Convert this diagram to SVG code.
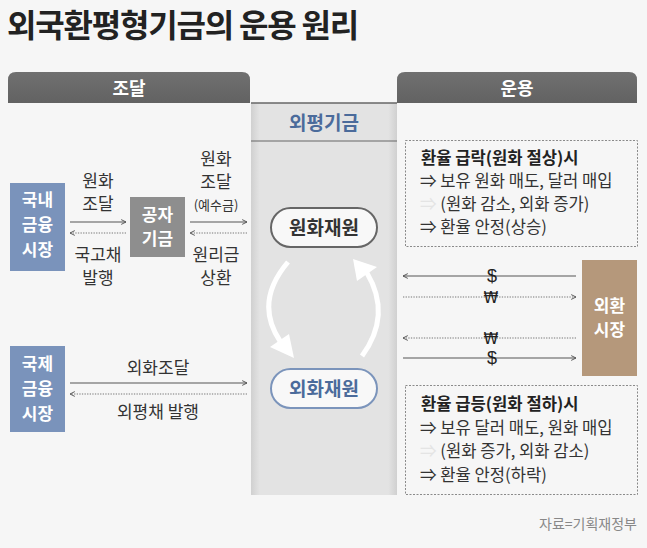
<svg xmlns="http://www.w3.org/2000/svg" width="647" height="548" viewBox="0 0 647 548">
<defs>
<style>
text{font-family:"Noto Sans CJK KR","Noto Sans",sans-serif;}
.t{font-size:17px;fill:#333;text-anchor:middle;}
.bw{font-size:17px;font-weight:bold;fill:#fff;text-anchor:middle;}
.bx{font-size:16.6px;fill:#333;}
.bxb{font-size:16.6px;fill:#222;font-weight:bold;}
.sol{stroke:#555;stroke-width:1.2;fill:none;}
.dot{stroke:#777;stroke-width:1.2;fill:none;stroke-dasharray:1.3 1.3;}
.dash{fill:none;stroke:#8a8a8a;stroke-width:1;stroke-dasharray:2 1.5;}
.money{font-family:"DejaVu Sans",sans-serif;font-size:15px;fill:#222;text-anchor:middle;}
.dollar{font-family:"Liberation Sans",sans-serif;font-size:18px;fill:#222;text-anchor:middle;}
</style>
<marker id="ch" viewBox="0 0 10 10" refX="9" refY="5" markerWidth="6" markerHeight="6" markerUnits="userSpaceOnUse" orient="auto-start-reverse">
<path d="M1,1 L9,5 L1,9" fill="none" stroke="#555" stroke-width="1.6"/>
</marker>
<linearGradient id="col" x1="0" y1="0" x2="1" y2="0">
<stop offset="0" stop-color="#d0d0d0"/>
<stop offset="0.06" stop-color="#e3e3e3"/>
<stop offset="0.94" stop-color="#e3e3e3"/>
<stop offset="1" stop-color="#d0d0d0"/>
</linearGradient>
<linearGradient id="tab" x1="0" y1="0" x2="0" y2="1">
<stop offset="0" stop-color="#707070"/>
<stop offset="1" stop-color="#626262"/>
</linearGradient>
</defs>
<rect width="647" height="548" fill="#f6f6f6"/>
<text x="7" y="37" style="font-size:32px;font-weight:bold;fill:#222;letter-spacing:-1.2px">외국환평형기금의 운용 원리</text>

<g id="tab-jodal">
<path d="M8,103 V80 Q8,72 16,72 H242 Q250,72 250,80 V103 Z" fill="url(#tab)"/>
<text x="129" y="95" style="font-size:18px;font-weight:bold;fill:#fff;text-anchor:middle">조달</text>
</g>
<g id="tab-unyong">
<path d="M397,103 V80 Q397,72 405,72 H629 Q637,72 637,80 V103 Z" fill="url(#tab)"/>
<text x="517" y="95" style="font-size:18px;font-weight:bold;fill:#fff;text-anchor:middle">운용</text>
</g>

<g id="fund-column">
<rect x="251" y="103" width="146" height="392" fill="url(#col)"/>
<line x1="251" y1="103" x2="397" y2="103" stroke="#666" stroke-width="1.5"/>
<line x1="251" y1="141" x2="397" y2="141" stroke="#666" stroke-width="1.2"/>
<text x="324" y="130" style="font-size:19px;font-weight:bold;fill:#4b6b9b;text-anchor:middle">외평기금</text>
</g>

<g id="domestic-market">
<rect x="10" y="183" width="55" height="88" fill="#7a93bb"/>
<text class="bw" x="37.5" y="206">국내</text>
<text class="bw" x="37.5" y="231">금융</text>
<text class="bw" x="37.5" y="256">시장</text>
</g>
<g id="public-fund">
<rect x="130" y="197" width="55" height="60" fill="#8e8e8e"/>
<text class="bw" x="157.5" y="221">공자</text>
<text class="bw" x="157.5" y="245">기금</text>
</g>
<g id="intl-market">
<rect x="10" y="346" width="55" height="86" fill="#7a93bb"/>
<text class="bw" x="37.5" y="370">국제</text>
<text class="bw" x="37.5" y="395">금융</text>
<text class="bw" x="37.5" y="420">시장</text>
</g>
<g id="won-resource">
<rect x="271" y="208" width="106" height="39" rx="19.5" fill="#f8f8f8" stroke="#666" stroke-width="2"/>
<text x="324" y="235" style="font-size:19px;font-weight:bold;fill:#333;text-anchor:middle">원화재원</text>
</g>
<g id="fx-resource">
<rect x="271" y="369" width="106" height="39" rx="19.5" fill="#f8f8f8" stroke="#7b94bb" stroke-width="2"/>
<text x="324" y="396" style="font-size:19px;font-weight:bold;fill:#4b6b9b;text-anchor:middle">외화재원</text>
</g>
<g id="fx-market">
<rect x="582" y="260" width="55" height="116" fill="#b5987b"/>
<text class="bw" x="609.5" y="312">외환</text>
<text class="bw" x="609.5" y="336">시장</text>
</g>

<g id="box-fall">
<rect class="dash" x="405.5" y="140.5" width="232" height="106"/>
<text class="bxb" x="421" y="164">환율 급락(원화 절상)시</text>
<text class="bx" x="420" y="187">⇒ 보유 원화 매도, 달러 매입</text>
<text class="bx" x="420" y="210"><tspan fill="#e4e4e4">⇒</tspan> (원화 감소, 외화 증가)</text>
<text class="bx" x="420" y="233">⇒ 환율 안정(상승)</text>
</g>
<g id="box-rise">
<rect class="dash" x="405.5" y="385.5" width="232" height="109"/>
<text class="bxb" x="421" y="410">환율 급등(원화 절하)시</text>
<text class="bx" x="420" y="434">⇒ 보유 달러 매도, 원화 매입</text>
<text class="bx" x="420" y="457"><tspan fill="#e4e4e4">⇒</tspan> (원화 증가, 외화 감소)</text>
<text class="bx" x="420" y="481">⇒ 환율 안정(하락)</text>
</g>

<g id="connectors">
<line class="sol" x1="70" y1="222" x2="126" y2="222" marker-end="url(#ch)"/>
<line class="dot" x1="126" y1="233" x2="70" y2="233" marker-end="url(#ch)"/>
<text class="t" x="98" y="187">원화</text>
<text class="t" x="98" y="210">조달</text>
<text class="t" x="98" y="261">국고채</text>
<text class="t" x="98" y="284">발행</text>

<line class="sol" x1="190" y1="222" x2="247" y2="222" marker-end="url(#ch)"/>
<line class="dot" x1="247" y1="233" x2="190" y2="233" marker-end="url(#ch)"/>
<text class="t" x="216" y="165">원화</text>
<text class="t" x="216" y="188">조달</text>
<text x="216" y="210" style="font-size:13px;fill:#333;text-anchor:middle">(예수금)</text>
<text class="t" x="216" y="261">원리금</text>
<text class="t" x="216" y="284">상환</text>

<line class="sol" x1="70" y1="383" x2="247" y2="383" marker-end="url(#ch)"/>
<line class="dot" x1="247" y1="394" x2="70" y2="394" marker-end="url(#ch)"/>
<text class="t" x="158" y="374">외화조달</text>
<text class="t" x="158" y="418">외평채 발행</text>

<path d="M288,262 Q254,302 280,341" fill="none" stroke="#fff" stroke-width="5"/>
<polygon points="294,358 270,347 289,334" fill="#fff"/>
<path d="M362,356 Q392,315 367,273" fill="none" stroke="#fff" stroke-width="5"/>
<polygon points="353,259 377,267 357,281" fill="#fff"/>

<line class="sol" x1="576" y1="276" x2="403" y2="276" marker-end="url(#ch)"/>
<line class="dot" x1="403" y1="297" x2="576" y2="297" marker-end="url(#ch)"/>
<line class="dot" x1="576" y1="338" x2="403" y2="338" marker-end="url(#ch)"/>
<line class="sol" x1="403" y1="358" x2="576" y2="358" marker-end="url(#ch)"/>
<text class="dollar" x="492" y="282">$</text>
<text class="money" x="491" y="303">₩</text>
<text class="money" x="491" y="344">₩</text>
<text class="dollar" x="492" y="364">$</text>
</g>

<text x="637" y="529" style="font-size:14px;fill:#888;text-anchor:end">자료=기획재정부</text>
</svg>
